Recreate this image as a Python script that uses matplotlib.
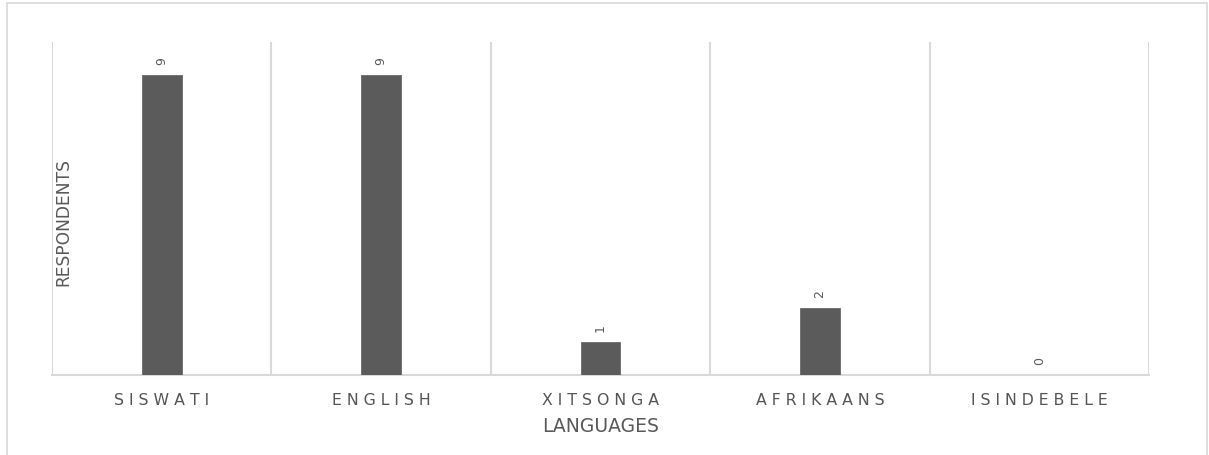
import matplotlib
matplotlib.use("Agg")
import matplotlib.pyplot as plt
from matplotlib.patches import Rectangle

categories = ["SISWATI", "ENGLISH", "XITSONGA", "AFRIKAANS", "ISINDEBELE"]
respondents = [9, 9, 1, 2, 0]
x_title = "LANGUAGES"
y_title = "RESPONDENTS"

W, H = 1209, 456
fig = plt.figure(figsize=(W / 100, H / 100), dpi=100)
fig.patch.set_facecolor("white")

# outer chart border
fig.patches.append(Rectangle((7 / W, -0.01), (1200) / W, (H - 4) / H + 0.01,
                             transform=fig.transFigure, fill=False,
                             edgecolor="#d9d9d9", linewidth=1.2))

ax = fig.add_axes([52 / W, 80 / H, (1149 - 52) / W, (376 - 43) / H])
n = len(categories)
pos = list(range(n))
bars = ax.bar(pos, respondents, width=0.182, color="#5b5b5b",
              edgecolor="#6a6a6a", linewidth=0.6, zorder=3)
ax.set_xlim(-0.5, n - 0.5)
ax.set_ylim(0, 10)

# vertical category separators
for b in [i - 0.5 for i in range(n + 1)]:
    ax.axvline(b, color="#d9d9d9", linewidth=1.5, zorder=1)

for s in ["top", "right", "left"]:
    ax.spines[s].set_visible(False)
ax.spines["bottom"].set_color("#d9d9d9")
ax.spines["bottom"].set_linewidth(1.5)
ax.set_yticks([])
ax.tick_params(axis="x", length=0, pad=12)
ax.set_xticks(pos)
ax.set_xticklabels([" ".join(c) for c in categories], fontsize=11.3,
                   color="#555555", family="DejaVu Sans")

for p, v in zip(pos, respondents):
    ax.annotate(str(v), (p, v), xytext=(0, 8), textcoords="offset points",
                ha="center", va="bottom", rotation=90, fontsize=9,
                color="#595959")

ax.set_xlabel(x_title, fontsize=13.5, color="#595959", labelpad=7)
ax.text(63 / W, 1 - 222 / H, y_title, transform=fig.transFigure, rotation=90,
        ha="center", va="center", fontsize=12.3, color="#595959")

fig.savefig("out.png", dpi=100)
